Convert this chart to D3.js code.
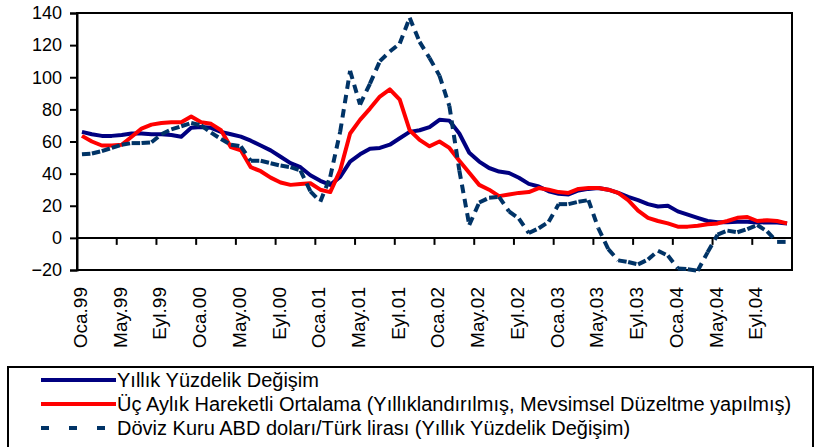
<!DOCTYPE html>
<html>
<head>
<meta charset="utf-8">
<script src="https://cdn.jsdelivr.net/npm/d3@7"></script>
<style>
  body { margin: 0; background: #fff; }
  svg { display: block; font-family: "Liberation Sans", Arial, sans-serif; }
</style>
</head>
<body>
<div id="chart"></div>
<script>
const months = ['Oca', 'Şub', 'Mar', 'Nis', 'May', 'Haz', 'Tem', 'Ağu', 'Eyl', 'Eki', 'Kas', 'Ara'];
const years = ['99', '00', '01', '02', '03', '04'];
const labelMonths = ['Oca', 'May', 'Eyl'];
const yTicks = [-20, 0, 20, 40, 60, 80, 100, 120, 140];

const seriesNames = [
  'Yıllık Yüzdelik Değişim',
  'Üç Aylık Hareketli Ortalama (Yıllıklandırılmış, Mevsimsel Düzeltme yapılmış)',
  'Döviz Kuru ABD doları/Türk lirası (Yıllık Yüzdelik Değişim)'
];

// Yıllık yüzdelik değişim, Oca.99 - Ara.04
const yillik = [
  66, 64.5, 63.5, 63.5, 64, 65, 65, 64.5, 64.5, 64, 63, 68.5,
  69, 68.5, 66, 64.5, 63, 60.5, 57.5, 54.5, 50.5, 46.5, 44, 39,
  35.5, 33, 38, 47.5, 52, 55.5, 56, 58, 62, 66, 67, 69,
  73.5, 73, 65, 53, 47.5, 43.5, 41.3, 40.4, 37.4, 33.6, 32, 29,
  27.5, 27, 29.5, 30.5, 31, 30, 28, 25.5, 23.5, 21, 19.5, 20,
  16.5, 14.5, 12.5, 10.5, 9.8, 9.8, 10, 10, 9.5, 9.8, 9.5, 9
];

// üç aylık hareketli ortalama
const ucAylik = [
  63.5, 60, 57.5, 57.5, 58, 63, 68, 70.5, 71.5, 72, 72, 75.5,
  72, 71, 67, 56.5, 54.5, 44, 41.5, 37.5, 34.5, 33, 33.5, 34,
  30, 28.5, 42, 65, 73.5, 80.5, 88, 92.5, 86, 67, 61, 57,
  60, 56, 48, 40.5, 33, 30, 26, 27, 28, 28.5, 31, 30,
  28.5, 28, 30.5, 31, 31, 30, 28, 23.5, 17, 12.5, 10.5, 9,
  7, 7, 7.5, 8.5, 9, 10.5, 12.5, 13, 10.5, 11, 10.5, 9
];

// döviz kuru
const doviz = [
  52, 52.5, 54, 56, 58, 59, 59, 59.5, 64.5, 67.5, 69.5, 71.5,
  70, 65.5, 61.5, 58, 57, 48, 48, 46.5, 45, 44, 42, 29,
  22.5, 38, 66, 104, 83, 96, 110, 116, 121, 137, 122, 112,
  101, 82, 42, 8, 22, 25, 25.5, 16.5, 12, 3, 6, 10,
  21, 21, 22.5, 23.5, 6, -7, -14, -15, -16.5, -13.5, -8, -11,
  -19, -19.5, -20.5, -9, 2, 4.5, 3.5, 5.5, 8, 4, -2.5, -2.5
];

const categories = years.flatMap(y => months.map(m => m + '.' + y));

const width = 818, height = 447;
const plotLeft = 77, plotRight = 792, plotTop = 13, plotBottom = 270;

const svg = d3.select('#chart')
  .append('svg')
    .attr('width', width)
    .attr('height', height);

const x = d3.scaleBand()
  .domain(categories)
  .range([plotLeft, plotRight])
  .padding(0);

const y = d3.scaleLinear()
  .domain([-20, 140])
  .range([plotBottom, plotTop]);

const cx = (d) => x(d) + x.bandwidth() / 2;

// plot frame
svg.append('rect')
  .attr('x', plotLeft)
  .attr('y', plotTop)
  .attr('width', plotRight - plotLeft)
  .attr('height', plotBottom - plotTop)
  .attr('fill', 'none')
  .attr('stroke', '#000')
  .attr('stroke-width', 2);

// y axis
const yAxis = svg.append('g')
  .attr('transform', `translate(${plotLeft},0)`)
  .call(d3.axisLeft(y).tickValues(yTicks).tickSize(7).tickPadding(8).tickFormat(d3.format('d')));
yAxis.select('.domain').attr('stroke', '#000').attr('stroke-width', 2);
yAxis.selectAll('.tick line').attr('stroke', '#000').attr('stroke-width', 2);
yAxis.selectAll('.tick text')
  .attr('font-size', 18)
  .attr('font-family', '"Liberation Sans", Arial, sans-serif')
  .attr('fill', '#000');

// category axis crossing at 0
const tickCats = categories.filter((c, i) => i > 0 && i % 4 === 0);
const xAxis = svg.append('g')
  .attr('transform', `translate(0,${y(0)})`);
xAxis.append('line')
  .attr('x1', plotLeft).attr('x2', plotRight)
  .attr('stroke', '#000').attr('stroke-width', 2);
xAxis.selectAll('line.tick')
  .data(tickCats.concat([null]))
  .enter()
    .append('line')
    .classed('tick', true)
    .attr('x1', (d) => d === null ? plotRight : x(d))
    .attr('x2', (d) => d === null ? plotRight : x(d))
    .attr('y1', 0)
    .attr('y2', 7)
    .attr('stroke', '#000')
    .attr('stroke-width', 2);

// month labels below the plot
const labelCats = categories.filter((c) => labelMonths.includes(c.split('.')[0]));
svg.selectAll('text.xlab')
  .data(labelCats)
  .enter()
    .append('text')
    .classed('xlab', true)
    .attr('transform', (d) => `translate(${cx(d) + 5},287) rotate(-90)`)
    .attr('text-anchor', 'end')
    .attr('font-size', 19)
    .attr('fill', '#000')
    .text((d) => d);

// series
const line = d3.line()
  .x((d) => cx(d.cat))
  .y((d) => y(d.v));

const toPoints = (arr) => arr.map((v, i) => ({ cat: categories[i], v: v }));

svg.append('path')
  .datum(toPoints(yillik))
  .attr('d', line)
  .attr('fill', 'none')
  .attr('stroke', '#000080')
  .attr('stroke-width', 4)
  .attr('stroke-linejoin', 'round');

svg.append('path')
  .datum(toPoints(ucAylik))
  .attr('d', line)
  .attr('fill', 'none')
  .attr('stroke', '#ff0000')
  .attr('stroke-width', 4)
  .attr('stroke-linejoin', 'round');

// dashed series, pattern restarts on each segment like the original
svg.append('g')
  .selectAll('path')
  .data(d3.pairs(toPoints(doviz)))
  .enter()
    .append('path')
    .attr('d', line)
    .attr('fill', 'none')
    .attr('stroke', '#003366')
    .attr('stroke-width', 4)
    .attr('stroke-dasharray', '8.5,6');

// legend
const legend = svg.append('g');
legend.append('rect')
  .attr('x', 8)
  .attr('y', 367)
  .attr('width', 805)
  .attr('height', 90)
  .attr('fill', '#fff')
  .attr('stroke', '#000')
  .attr('stroke-width', 2);

const legendRows = [
  { name: seriesNames[0], color: '#000080', dash: null },
  { name: seriesNames[1], color: '#ff0000', dash: null },
  { name: seriesNames[2], color: '#003366', dash: '8,20' }
];

const row = legend.selectAll('g.row')
  .data(legendRows)
  .enter()
    .append('g')
    .classed('row', true)
    .attr('transform', (d, i) => `translate(0,${380 + i * 24})`);

row.append('line')
  .attr('x1', 41)
  .attr('x2', 116)
  .attr('stroke', (d) => d.color)
  .attr('stroke-width', 4)
  .attr('stroke-dasharray', (d) => d.dash);

row.append('text')
  .attr('x', 117)
  .attr('dy', '0.35em')
  .attr('font-size', 20)
  .attr('fill', '#000')
  .text((d) => d.name);
</script>
</body>
</html>
